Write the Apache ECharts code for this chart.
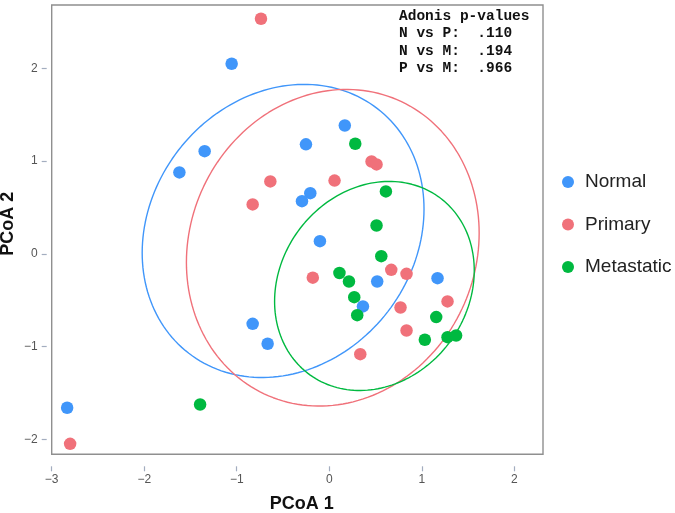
<!DOCTYPE html>
<html>
<head>
<meta charset="utf-8">
<script src="https://cdn.jsdelivr.net/npm/echarts@6/dist/echarts.min.js"></script>
<style>
html,body{margin:0;padding:0;background:#fff;}
#main{width:675px;height:513px;}
</style>
</head>
<body>
<div id="main"></div>
<script>
// ---- data ----
var seriesNames = ['Normal', 'Primary', 'Metastatic'];
var normalPoints = [
  [-1.055, 2.049], [-1.347, 1.106], [-1.620, 0.877], [-0.252, 1.180], [0.168, 1.383],
  [-0.205, 0.653], [-0.295, 0.567], [-0.101, 0.136], [1.170, -0.263], [0.518, -0.299],
  [0.364, -0.568], [-0.828, -0.755], [-0.666, -0.970], [-2.833, -1.660]
];
var primaryPoints = [
  [-0.738, 2.534], [-0.637, 0.780], [-0.828, 0.532], [0.057, 0.789], [0.457, 0.995],
  [0.511, 0.963], [-0.178, -0.258], [0.670, -0.173], [0.835, -0.216], [0.770, -0.579],
  [1.278, -0.514], [0.835, -0.827], [0.335, -1.082], [-2.801, -2.049]
];
var metastaticPoints = [
  [0.281, 1.186], [0.612, 0.672], [0.511, 0.305], [0.562, -0.026], [0.110, -0.207],
  [0.213, -0.299], [0.270, -0.468], [0.302, -0.662], [1.156, -0.683], [1.033, -0.927],
  [1.278, -0.899], [1.371, -0.881], [-1.396, -1.625]
];
// ellipse: [centerX, centerY, halfWidthX, halfHeightY, covarianceXY]
var normalEllipse = [-0.499, 0.246, 1.523, 1.580, 0.36];
var primaryEllipse = [0.038, 0.065, 1.582, 1.707, 0.25];
var metastaticEllipse = [0.488, -0.347, 1.079, 1.127, 0.18];
var xTicks = [-3, -2, -1, 0, 1, 2];
var yTicks = [-2, -1, 0, 1, 2];
var annotationLines = ['Adonis p-values', 'N vs P:  .110', 'N vs M:  .194', 'P vs M:  .966'];

var colors = ['#4096fa', '#f0717a', '#00b940'];

function ellipsePath(e) {
  var cx = e[0], cy = e[1], sx = e[2], sy = e[3], c = e[4];
  var k = c / sx;
  var r = Math.sqrt(sy * sy - k * k);
  var pts = [];
  for (var i = 0; i <= 180; i++) {
    var t = i / 180 * 2 * Math.PI;
    pts.push([cx + sx * Math.cos(t), cy + k * Math.cos(t) + r * Math.sin(t)]);
  }
  return pts;
}

var chart = echarts.init(document.getElementById('main'));
var minus = function (v) { return String(v).replace('-', '\u2212'); };

var pointSets = [normalPoints, primaryPoints, metastaticPoints];
var ellipses = [normalEllipse, primaryEllipse, metastaticEllipse];
var series = [];
for (var s = 0; s < 3; s++) {
  series.push({
    name: seriesNames[s] + ' ellipse',
    type: 'line',
    data: ellipsePath(ellipses[s]),
    showSymbol: false,
    smooth: false,
    silent: true,
    lineStyle: { color: colors[s], width: 1.4 },
    z: 1
  });
}
for (var s2 = 0; s2 < 3; s2++) {
  series.push({
    name: seriesNames[s2],
    type: 'scatter',
    data: pointSets[s2],
    symbolSize: 12.5,
    itemStyle: { color: colors[s2], opacity: 1 },
    z: 3
  });
}

chart.setOption({
  animation: false,
  color: colors,
  grid: {
    left: 51.7, right: 132, top: 5, bottom: 58.7,
    containLabel: false, outerBoundsMode: 'none',
    show: true, borderColor: '#8f8f8f', borderWidth: 1.4, backgroundColor: '#fff'
  },
  legend: {
    data: seriesNames.map(function (n) { return { name: n, icon: 'circle' }; }),
    orient: 'vertical',
    left: 557, top: 167,
    itemWidth: 12, itemHeight: 12, itemGap: 22.5,
    textStyle: { fontSize: 19, fontFamily: 'Liberation Sans, Arial', color: '#222', lineHeight: 20, padding: [0, 0, 0, 6] }
  },
  xAxis: {
    type: 'value', min: -3, max: 2.31, offset: 12, position: 'bottom',
    axisLine: { show: false, onZero: false },
    splitLine: { show: false },
    axisTick: { show: true, length: 5, lineStyle: { color: '#a3adbf', width: 1.2 }, customValues: xTicks },
    axisLabel: { customValues: xTicks, formatter: minus, fontSize: 12, color: '#555', margin: 7, fontFamily: 'Liberation Sans, Arial' },
    name: 'PCoA 1', nameLocation: 'middle', nameGap: 28.5, nameMoveOverlap: false,
    nameTextStyle: { fontSize: 18, fontWeight: 'bold', color: '#111', fontFamily: 'Liberation Sans, Arial', padding: [0, 0, 0, 9] }
  },
  yAxis: {
    type: 'value', min: -2.162, max: 2.682, offset: 5, position: 'left',
    axisLine: { show: false, onZero: false },
    splitLine: { show: false },
    axisTick: { show: true, length: 5, lineStyle: { color: '#a3adbf', width: 1.2 }, customValues: yTicks },
    axisLabel: { customValues: yTicks, formatter: minus, fontSize: 12, color: '#555', margin: 9, fontFamily: 'Liberation Sans, Arial' },
    name: 'PCoA 2', nameLocation: 'middle', nameGap: 30, nameMoveOverlap: false,
    nameTextStyle: { fontSize: 18, fontWeight: 'bold', color: '#111', fontFamily: 'Liberation Sans, Arial', padding: [0, 0, 0, 12] }
  },
  graphic: [{
    type: 'text', left: 399, top: 7.5, z: 10,
    style: {
      text: annotationLines.join('\n'),
      font: 'bold 14.5px "Liberation Mono", "Courier New", monospace',
      lineHeight: 17.5,
      fill: '#111'
    }
  }],
  series: series
});
</script>
</body>
</html>
